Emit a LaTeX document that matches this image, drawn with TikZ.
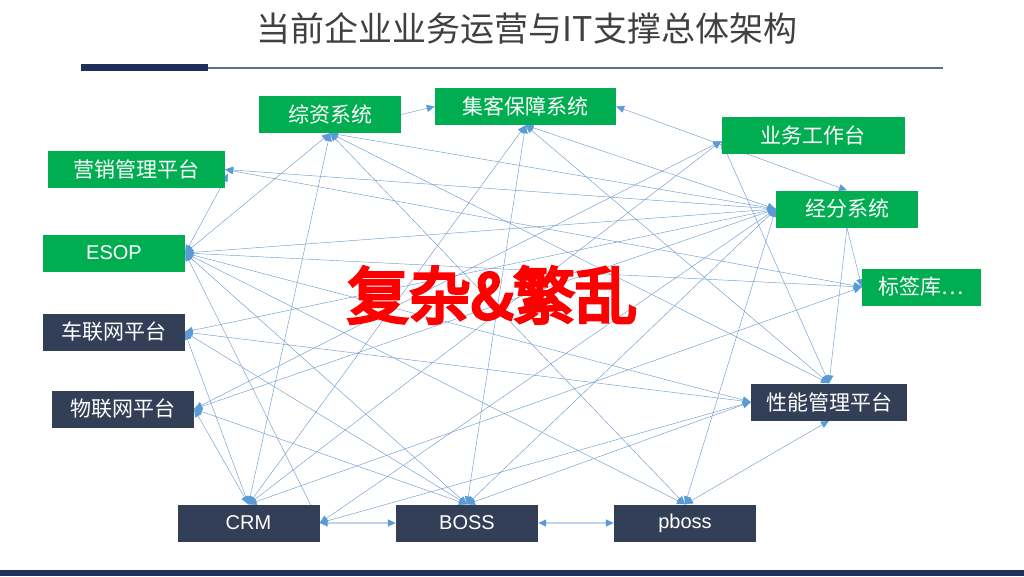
\documentclass[tikz,border=0pt]{standalone}
\usepackage{fontspec}
\setmainfont{Liberation Sans}
\newfontfamily\cjk{Noto Sans CJK SC}
\newfontfamily\cjkbold{Noto Sans CJK SC}[FakeBold=5]
\usetikzlibrary{arrows.meta, backgrounds}

\definecolor{boxgreen}{HTML}{00AD50}
\definecolor{boxnavy}{HTML}{333F57}
\definecolor{linkblue}{HTML}{6E9CCF}
\definecolor{tipblue}{HTML}{5B9BD5}
\definecolor{pairblue}{HTML}{C5D1E6}
\definecolor{barnavy}{HTML}{1F2F5C}
\definecolor{barline}{HTML}{5F6E90}
\definecolor{titlegray}{HTML}{404040}

\tikzset{
	,font = \cjk\fontsize{21}{25}\selectfont
	,greenbox/.style = {rectangle, fill=boxgreen, text=white, minimum width=142pt, minimum height=37pt, inner sep=0pt}
	,navybox/.style  = {rectangle, fill=boxnavy, text=white, minimum width=142pt, minimum height=37pt, inner sep=0pt}
	,latin/.style = {font=\rmfamily\fontsize{20}{24}\selectfont}
	,link/.style  = {{Triangle[width=7pt, length=8pt, color=tipblue]}-{Triangle[width=7pt, length=8pt, color=tipblue]}, draw=linkblue, line width=0.45pt}
	,linkr/.style = {-{Triangle[width=7pt, length=8pt, color=tipblue]}, draw=linkblue, line width=0.45pt}
	,linkp/.style = {{Triangle[width=7pt, length=8pt, color=tipblue]}-{Triangle[width=7pt, length=8pt, color=tipblue]}, draw=pairblue, line width=1.5pt}
}

\begin{document}
\begin{tikzpicture}[x=1pt, y=-1pt]
	\useasboundingbox (0,0) rectangle (1024,576);
	% title and bars
	\node[font=\cjk\fontsize{34}{38}\selectfont, text=titlegray] at (527, 28) (title) {当前企业业务运营与IT支撑总体架构};
	\fill[barnavy] (81,64) rectangle (208,71);
	\draw[barline, line width=2pt] (208,67.5) -- (943,67.5);
	\fill[barnavy] (0,570) rectangle (1024,576);
	% systems
	\node[greenbox] at (330, 114.5) (zz) {综资系统};
	\node[greenbox, minimum width=181pt] at (525.5, 106.5) (jk) {集客保障系统};
	\node[greenbox, minimum width=183pt] at (813, 135) (yw) {业务工作台};
	\node[greenbox, minimum width=177pt] at (136.5, 169.5) (yx) {营销管理平台};
	\node[greenbox] at (847, 209) (jf) {经分系统};
	\node[greenbox, latin] at (114, 253) (es) {ESOP};
	\node[greenbox, minimum width=119pt] at (921.5, 287) (bq) {标签库…};
	\node[navybox] at (113.5, 332) (cl) {车联网平台};
	\node[navybox] at (123, 409) (wl) {物联网平台};
	\node[navybox, minimum width=156pt] at (829, 402) (xn) {性能管理平台};
	\node[navybox, latin] at (248.5, 523) (crm) {CRM};
	\node[navybox, latin] at (467, 523) (boss) {BOSS};
	\node[navybox, latin] at (685, 523) (pb) {pboss};
	\node[font=\cjkbold\fontsize{62}{70}\selectfont, text=red] at (492, 295) (mess) {复杂\&繁乱};
	\coordinate (ywa) at ([yshift=-6pt]yw.west);
	\coordinate (yxa) at ([xshift=3pt, yshift=-4pt]yx.east);
	% links
	\begin{scope}[on background layer]
		\draw[linkr] (zz.east) -- (jk.west);
		\draw[link] (jk.east) -- (jf.north);
		\draw[link] (es.east) -- (yxa);
		\draw[link] (es.east) -- (zz.south);
		\draw[link] (jf.west) -- (yx.east);
		\draw[link] (bq.west) -- (yx.east);
		\draw[link] (zz.south) -- (crm.north);
		\draw[link] (zz.south) -- (pb.north);
		\draw[link] (zz.south) -- (jf.west);
		\draw[link] (zz.south) -- (xn.north);
		\draw[link] (jk.south) -- (crm.north);
		\draw[link] (jk.south) -- (boss.north);
		\draw[link] (jk.south) -- (jf.west);
		\draw[link] (jk.south) -- (xn.north);
		\draw[link] (wl.east) -- (ywa);
		\draw[link] (crm.north) -- (ywa);
		\draw[link] (ywa) -- (xn.north);
		\draw[linkr] (jf.south) -- (bq.west);
		\draw[linkr] (jf.south) -- (xn.north);
		\draw[link] (crm.east) -- (jf.west);
		\draw[link] (boss.north) -- (jf.west);
		\draw[link] (pb.north) -- (jf.west);
		\draw[link] (cl.east) -- (jf.west);
		\draw[link] (es.east) -- (jf.west);
		\draw[link] (wl.east) -- (jf.west);
		\draw[link] (es.east) -- (bq.west);
		\draw[link] (es.east) -- (xn.west);
		\draw[link] (es.east) -- (crm.east);
		\draw[link] (es.east) -- (boss.north);
		\draw[link] (es.east) -- (pb.north);
		\draw[link] (cl.east) -- (xn.west);
		\draw[link] (cl.east) -- (crm.north);
		\draw[link] (cl.east) -- (boss.north);
		\draw[link] (wl.east) -- (crm.north);
		\draw[link] (wl.east) -- (boss.north);
		\draw[link] (crm.east) -- (xn.west);
		\draw[link] (boss.north) -- (xn.west);
		\draw[link] (pb.north) -- (xn.south);
		\draw[link] (bq.west) -- (crm.north);
		\draw[linkp] (crm.east) -- (boss.west);
		\draw[linkp] (boss.east) -- (pb.west);
	\end{scope}
\end{tikzpicture}
\end{document}
